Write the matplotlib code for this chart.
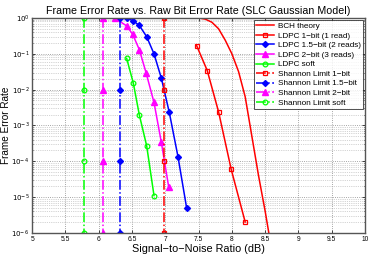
import matplotlib
matplotlib.use("Agg")
import matplotlib.pyplot as plt
import numpy as np

plt.rcParams['font.family'] = ['Liberation Sans', 'DejaVu Sans']

# BCH theory curve (SNR dB, FER)
bch_snr = [5.0, 7.5, 7.6, 7.7, 7.8, 7.9, 8.0, 8.1, 8.2, 8.3, 8.4, 8.5, 8.6]
bch_fer = [1.0, 1.0, 0.93, 0.76, 0.50, 0.24, 0.10, 0.032, 6.3e-3, 5.0e-4, 4.0e-5, 4.0e-6, 3.2e-7]

# LDPC curves
ldpc1_snr = [7.47, 7.63, 7.80, 7.99, 8.20]
ldpc1_fer = [0.17, 0.034, 2.4e-3, 5.9e-5, 2.0e-6]

ldpc15_snr = [6.42, 6.51, 6.61, 6.72, 6.83, 6.94, 7.06, 7.19, 7.32]
ldpc15_fer = [1.0, 0.85, 0.62, 0.30, 0.10, 0.021, 2.3e-3, 1.35e-4, 5.0e-6]

ldpc2_snr = [6.24, 6.42, 6.51, 6.61, 6.71, 6.83, 6.94, 7.05]
ldpc2_fer = [1.0, 0.60, 0.35, 0.13, 0.030, 4.4e-3, 3.4e-4, 1.95e-5]

ldpcs_snr = [6.42, 6.52, 6.61, 6.72, 6.83]
ldpcs_fer = [0.074, 0.015, 1.95e-3, 2.7e-4, 1.1e-5]

# Shannon limits (vertical lines)
shannon_snr = {"1-bit": 6.98, "1.5-bit": 6.32, "2-bit": 6.07, "soft": 5.78}
shannon_fer = [1.0, 1e-2, 1e-4, 1e-6]

fig = plt.figure(figsize=(3.74, 2.57), dpi=100)
ax = fig.add_axes([0.086, 0.094, 0.89, 0.836])

lw = 1.1
ms = 3.4
ax.plot(bch_snr, bch_fer, '-', color='#ff0000', lw=lw, label='BCH theory')
ax.plot(ldpc1_snr, ldpc1_fer, '-s', color='#ff0000', lw=lw, ms=ms, mfc='none', mew=0.9,
        label='LDPC 1\u2212bit (1 read)')
ax.plot(ldpc15_snr, ldpc15_fer, '-D', color='#0000ff', lw=lw, ms=ms - 0.4,
        label='LDPC 1.5\u2212bit (2 reads)')
ax.plot(ldpc2_snr, ldpc2_fer, '-^', color='#ff00ff', lw=lw, ms=ms + 0.4,
        label='LDPC 2\u2212bit (3 reads)')
ax.plot(ldpcs_snr, ldpcs_fer, '-o', color='#00ff00', lw=lw, ms=ms, mfc='none', mew=0.9,
        label='LDPC soft')

ax.plot([shannon_snr["1-bit"]] * 4, shannon_fer, '-.s', color='#ff0000', lw=lw, ms=ms,
        mfc='none', mew=0.9, label='Shannon Limit 1\u2212bit')
ax.plot([shannon_snr["1.5-bit"]] * 4, shannon_fer, '-.D', color='#0000ff', lw=lw,
        ms=ms - 0.4, label='Shannon Limit 1.5\u2212bit')
ax.plot([shannon_snr["2-bit"]] * 4, shannon_fer, '-.^', color='#ff00ff', lw=lw,
        ms=ms + 0.4, label='Shannon Limit 2\u2212bit')
ax.plot([shannon_snr["soft"]] * 4, shannon_fer, '-.o', color='#00ff00', lw=lw, ms=ms,
        mfc='none', mew=0.9, label='Shannon Limit soft')

ax.set_yscale('log')
ax.set_xlim(5, 10)
ax.set_ylim(1e-6, 1)
xt = np.arange(5, 10.01, 0.5)
ax.set_xticks(xt)
ax.set_xticklabels([f"{v:g}" for v in xt], fontsize=4.8)
ax.set_yticks([10.0 ** k for k in range(-6, 1)])
ax.set_yticklabels([f"$10^{{{k}}}$" for k in range(-6, 1)], fontsize=5)
ax.tick_params(which='both', direction='in', length=2, width=0.5, pad=2,
               top=True, right=True)
ax.tick_params(which='minor', length=1)
ax.grid(True, which='major', ls=':', color='#888888', lw=0.6)
ax.grid(True, which='minor', axis='y', ls=':', color='#aaaaaa', lw=0.5)
for s in ax.spines.values():
    s.set_color('#555555')
    s.set_linewidth(1.0)

ax.set_title("Frame Error Rate vs. Raw Bit Error Rate (SLC Gaussian Model)",
             fontsize=7.7, pad=3)
ax.set_xlabel("Signal\u2212to\u2212Noise Ratio (dB)", fontsize=7.8, labelpad=1)
ax.set_ylabel("Frame Error Rate", fontsize=7.2)
ax.yaxis.set_label_coords(-0.065, 0.5)

leg = ax.legend(loc='upper right', fontsize=5.9, frameon=True, fancybox=False,
                handlelength=2.2, borderpad=0.3, labelspacing=0.22,
                handletextpad=0.4, borderaxespad=0.25)
leg.get_frame().set_edgecolor('black')
leg.get_frame().set_linewidth(0.6)

fig.savefig("out.png", dpi=100)
